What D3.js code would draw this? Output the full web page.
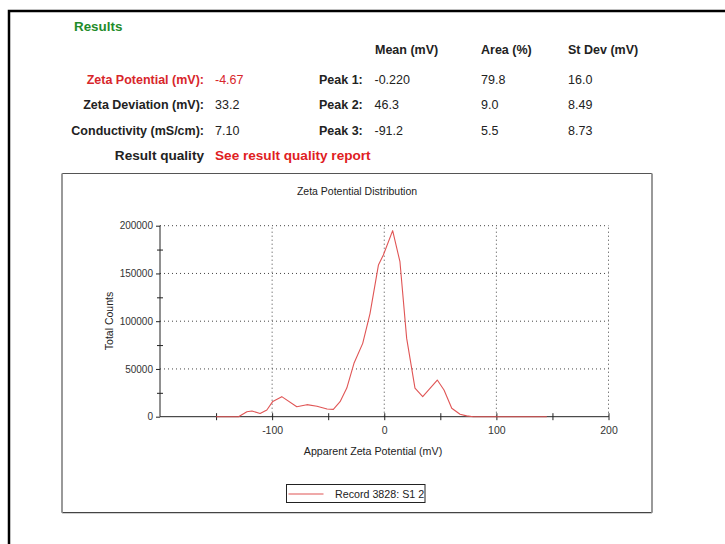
<!DOCTYPE html>
<html>
<head>
<meta charset="utf-8">
<script src="https://cdn.jsdelivr.net/npm/d3@7"></script>
<style>
  html, body { margin: 0; padding: 0; background: #fff; }
  svg { display: block; font-family: Arial, "Liberation Sans", sans-serif; }
</style>
</head>
<body>
<svg id="chart" width="725" height="544"></svg>
<script>
// ---------- data ----------
const summaryLabels = ["Zeta Potential (mV):", "Zeta Deviation (mV):", "Conductivity (mS/cm):"];
const summaryValues = ["-4.67", "33.2", "7.10"];
const peakHeaders = ["Mean (mV)", "Area (%)", "St Dev (mV)"];
const peakLabels = ["Peak 1:", "Peak 2:", "Peak 3:"];
const peakMeans = ["-0.220", "46.3", "-91.2"];
const peakAreas = ["79.8", "9.0", "5.5"];
const peakStDevs = ["16.0", "8.49", "8.73"];

const potential = [-150, -140, -130, -122.5, -118, -110.7, -104.7, -99.4, -91.4, -78, -69, -60, -51, -45.4, -39.4, -33.4, -27, -19.2, -12.7, -5.2, -0.8, 7.5, 14, 20, 27.4, 34.3, 47.3, 53.3, 60.2, 67.6, 73.5, 79.4, 90, 100, 110, 120, 130, 145];
const counts =    [0, 0, 0, 5200, 6000, 3300, 7000, 16000, 21000, 10500, 12600, 11000, 8000, 7700, 15700, 30000, 55900, 76800, 108000, 158800, 169300, 194800, 162300, 82000, 30000, 21000, 38400, 28000, 8800, 2500, 900, 0, 0, 0, 0, 0, 0, 0];

const xMajorTicks = [-100, 0, 100, 200];
const xAllTicks = [-150, -100, -50, 0, 50, 100, 150, 200];
const yMajorTicks = [0, 50000, 100000, 150000, 200000];
const yMinorTicks = [25000, 75000, 125000, 175000];
const legendLabel = "Record 3828: S1 2";

// ---------- drawing ----------
const svg = d3.select("#chart");
const FONT = 'Arial, "Liberation Sans", sans-serif';

// outer frame
svg.append("path").attr("d", "M9,544 V11 H725")
  .attr("fill", "none").attr("stroke", "#000").attr("stroke-width", 2.5);

// header
svg.append("text").attr("x", 74).attr("y", 31).attr("font-size", 13.4)
  .attr("font-weight", "bold").attr("fill", "#1f8c2a").text("Results");

const colX = [375, 481, 568];
peakHeaders.forEach((h, i) => {
  svg.append("text").attr("x", colX[i]).attr("y", 53.5).attr("font-size", 12.5)
    .attr("font-weight", "bold").attr("fill", "#222").text(h);
});

const rowY = [83.5, 108.5, 134.5];
summaryLabels.forEach((lab, i) => {
  const red = i === 0;
  svg.append("text").attr("x", 204).attr("y", rowY[i]).attr("font-size", 12.5)
    .attr("font-weight", "bold").attr("text-anchor", "end")
    .attr("fill", red ? "#d8262b" : "#222").text(lab);
  svg.append("text").attr("x", 215).attr("y", rowY[i]).attr("font-size", 12.5)
    .attr("fill", red ? "#d8262b" : "#222").text(summaryValues[i]);
  svg.append("text").attr("x", 319).attr("y", rowY[i]).attr("font-size", 12.5)
    .attr("font-weight", "bold").attr("fill", "#222").text(peakLabels[i]);
  [peakMeans[i], peakAreas[i], peakStDevs[i]].forEach((v, j) => {
    svg.append("text").attr("x", j === 0 ? 374.5 : colX[j]).attr("y", rowY[i])
      .attr("font-size", 12.5).attr("fill", "#222").text(v);
  });
});

svg.append("text").attr("x", 204).attr("y", 160).attr("font-size", 13.6)
  .attr("font-weight", "bold").attr("text-anchor", "end").attr("fill", "#222")
  .text("Result quality");
svg.append("text").attr("x", 215).attr("y", 160).attr("font-size", 13.6)
  .attr("font-weight", "bold").attr("fill", "#e0201f")
  .text("See result quality report");

// chart box
const box = {x0: 62, y0: 173.5, x1: 652, y1: 512.7};
svg.append("line").attr("x1", box.x0).attr("x2", box.x1).attr("y1", box.y0).attr("y2", box.y0)
  .attr("stroke", "#555").attr("stroke-width", 1.2);
svg.append("line").attr("x1", box.x0).attr("x2", box.x1).attr("y1", box.y1).attr("y2", box.y1)
  .attr("stroke", "#444").attr("stroke-width", 1.2);
svg.append("line").attr("x1", box.x0).attr("x2", box.x0).attr("y1", box.y0).attr("y2", box.y1)
  .attr("stroke", "#999").attr("stroke-width", 2);
svg.append("line").attr("x1", box.x1).attr("x2", box.x1).attr("y1", box.y0).attr("y2", box.y1)
  .attr("stroke", "#999").attr("stroke-width", 2);

svg.append("text").attr("x", 357).attr("y", 195).attr("font-size", 10.5)
  .attr("text-anchor", "middle").attr("fill", "#222").text("Zeta Potential Distribution");

// scales
const x = d3.scaleLinear().domain([-200, 200]).range([160, 608.5]);
const y = d3.scaleLinear().domain([0, 200000]).range([416.7, 225.7]);

// grid
const grid = svg.append("g").attr("stroke", "#444").attr("stroke-width", 1)
  .attr("stroke-dasharray", "1,3");
yMajorTicks.filter(d => d > 0).forEach(d => {
  grid.append("line").attr("x1", x(-200)).attr("x2", x(200))
    .attr("y1", y(d)).attr("y2", y(d));
});
xMajorTicks.forEach(d => {
  grid.append("line").attr("x1", x(d)).attr("x2", x(d))
    .attr("y1", y(0)).attr("y2", y(200000));
});

// x axis
const xAxis = d3.axisBottom(x).tickValues(xAllTicks).tickSize(7)
  .tickFormat(d => xMajorTicks.includes(d) ? String(d) : "");
const gx = svg.append("g").attr("transform", `translate(0,${y(0)})`).call(xAxis);
gx.select(".domain").attr("stroke", "#222").attr("d", `M${x(-200)},0H${x(200)}`);
gx.selectAll(".tick line").attr("stroke", "#222").attr("y1", -3.5).attr("y2", 3.5);
gx.selectAll(".tick text").attr("y", 10).attr("dy", "0.71em")
  .attr("font-family", FONT).attr("font-size", 10.5).attr("fill", "#333");

// y axis major
const yAxis = d3.axisLeft(y).tickValues(yMajorTicks).tickSize(4).tickPadding(3)
  .tickFormat(d => String(d));
const gy = svg.append("g").attr("transform", `translate(${x(-200)},0)`).call(yAxis);
gy.select(".domain").attr("stroke", "#222").attr("d", `M0,${y(0)}V${y(200000)}`);
gy.selectAll(".tick line").attr("stroke", "#222");
gy.selectAll(".tick text").attr("font-family", FONT).attr("font-size", 10)
  .attr("fill", "#333");

// y axis minor
const yMinor = d3.axisLeft(y).tickValues(yMinorTicks).tickSize(3).tickFormat("");
const gym = svg.append("g").attr("transform", `translate(${x(-200)},0)`).call(yMinor);
gym.select(".domain").remove();
gym.selectAll(".tick line").attr("stroke", "#222").attr("x1", 3).attr("x2", -3);

// axis titles
svg.append("text").attr("x", 373).attr("y", 455).attr("font-size", 10.7)
  .attr("text-anchor", "middle").attr("fill", "#222").text("Apparent Zeta Potential (mV)");
svg.append("text").attr("transform", "translate(113,321) rotate(-90)")
  .attr("font-size", 10.5).attr("text-anchor", "middle").attr("fill", "#222")
  .text("Total Counts");

// data line
const line = d3.line().x((d, i) => x(potential[i])).y(d => y(d));
svg.append("path").datum(counts).attr("d", line)
  .attr("fill", "none").attr("stroke", "#e05555").attr("stroke-width", 1.1)
  .attr("stroke-linejoin", "round");

// legend
const lg = svg.append("g");
lg.append("rect").attr("x", 286.5).attr("y", 484.5).attr("width", 138.5).attr("height", 18)
  .attr("fill", "#fff").attr("stroke", "#222").attr("stroke-width", 1);
lg.append("line").attr("x1", 288.5).attr("x2", 323.5).attr("y1", 494).attr("y2", 494)
  .attr("stroke", "#e05555").attr("stroke-width", 1.1);
lg.append("text").attr("x", 335).attr("y", 498).attr("font-size", 10.7)
  .attr("fill", "#222").text(legendLabel);
</script>
</body>
</html>
